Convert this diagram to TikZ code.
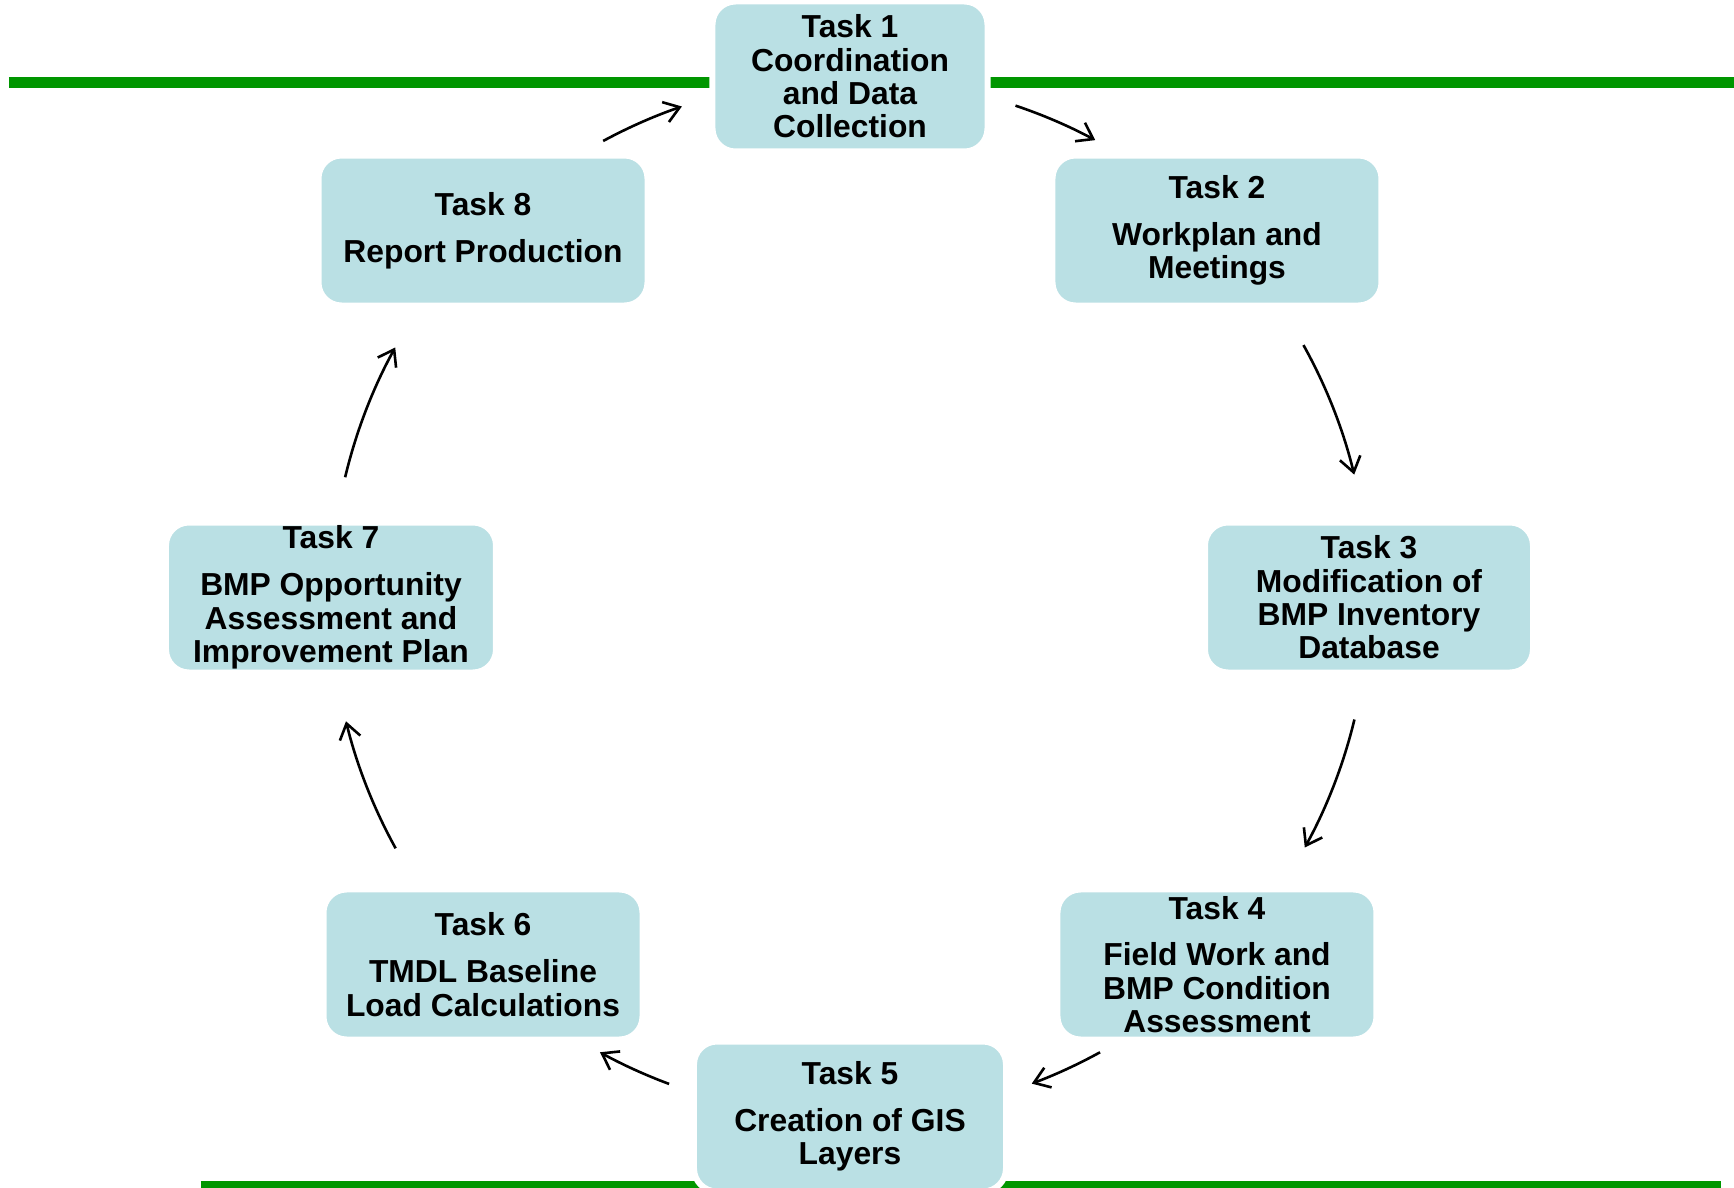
\documentclass[tikz,border=0pt]{standalone}
\usepackage{fontspec}
\setmainfont{Liberation Sans}
\definecolor{TaskColor}{RGB}{186,224,228}
\definecolor{RuleColor}{RGB}{0,150,0}
\usetikzlibrary{arrows.meta}

\begin{document}
\begin{tikzpicture}[x=1pt, y=1pt,
    task/.style={rectangle, rounded corners=23pt, fill=TaskColor, draw=white, line width=6pt,
      inner sep=0pt, minimum height=150pt, align=center,
      font={\fontsize{31.8}{33.4}\selectfont\bfseries}},
    flow/.style={-{Straight Barb[length=15pt, width=21pt]}, line width=2.6pt}]
  \useasboundingbox (-850,597.5) rectangle (884,-589.5);
  % green rules
  \draw[RuleColor, line width=11pt] (-841,515) -- (884,515);
  \draw[RuleColor, line width=11pt] (-649,-588.5) -- (871,-588.5);
  % tasks round the cycle
  \node[task, minimum width=275pt] (t1) at (90:521) {Task 1\\Coordination\\and Data\\Collection};
  \node[task, minimum width=329pt] (t2) at (45:519) {Task 2\\[13.5pt]Workplan and\\Meetings};
  \node[task, minimum width=328pt] (t3) at (0:519) {Task 3\\Modification of\\BMP Inventory\\Database};
  \node[task, minimum width=319pt] (t4) at (-45:519) {Task 4\\[13.5pt]Field Work and\\BMP Condition\\Assessment};
  \node[task, minimum width=312pt] (t5) at (-90:519) {Task 5\\[13.5pt]Creation of GIS\\Layers};
  \node[task, minimum width=319pt] (t6) at (-135:519) {Task 6\\[13.5pt]TMDL Baseline\\Load Calculations};
  \node[task, minimum width=330pt] (t7) at (180:519) {Task 7\\[13.5pt]BMP Opportunity\\Assessment and\\Improvement Plan};
  \node[task, minimum width=329pt] (t8) at (135:519) {Task 8\\[13.5pt]Report Production};
  % arrows
  \foreach \a/\b in {71.4/61.8, 29.1/13.7, -13.6/-28.8, -61.2/-69.5,
                     -110.4/-118.8, -151.1/-166.2, 166.6/151.2, 118.4/108.9}
    \draw[flow] (\a:519pt) arc[start angle=\a, end angle=\b, radius=519pt];
\end{tikzpicture}
\end{document}
